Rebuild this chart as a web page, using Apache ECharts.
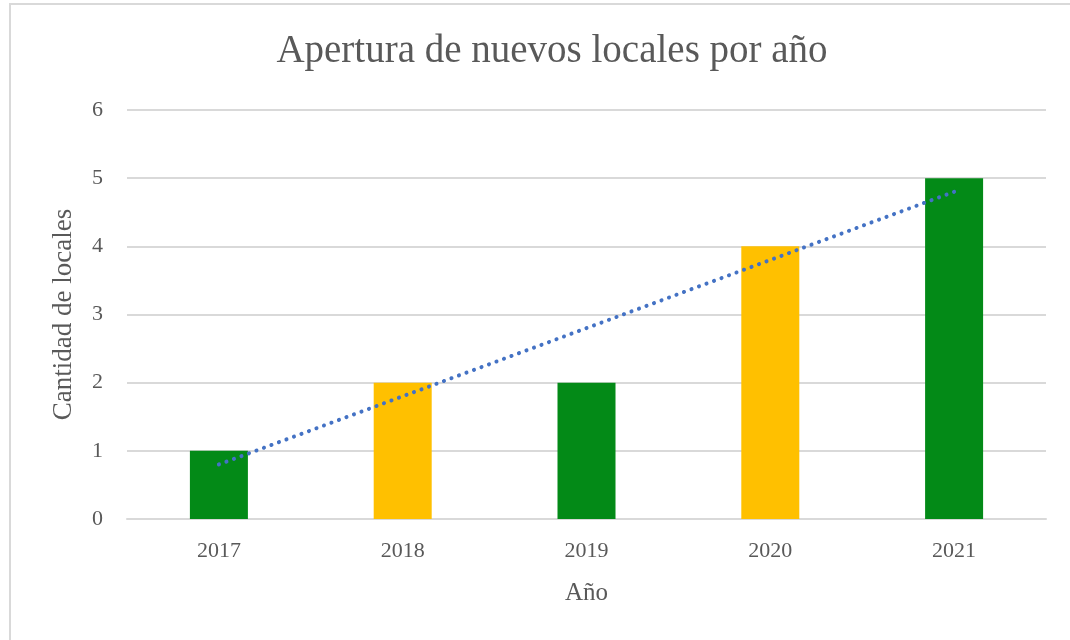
<!DOCTYPE html>
<html>
<head>
<meta charset="utf-8">
<script src="https://cdn.jsdelivr.net/npm/echarts@6/dist/echarts.min.js"></script>
<style>
  html, body { margin: 0; padding: 0; background: #fff; }
  #frame { position: absolute; left: 9px; top: 3px; width: 1100px; height: 700px; border-left: 2px solid #d9d9d9; border-top: 2px solid #d9d9d9; }
  #main { position: absolute; left: 0; top: 0; width: 1070px; height: 640px; }
</style>
</head>
<body>
<div id="frame"></div>
<div id="main"></div>
<script>
// datos del gráfico
var years = ['2017', '2018', '2019', '2020', '2021'];
var locales = [1, 2, 2, 4, 5];
var barColors = ['#038a17', '#ffc000', '#038a17', '#ffc000', '#038a17'];
// línea de tendencia
var tendencia = [0.8, 1.8, 2.8, 3.8, 4.8];

var chart = echarts.init(document.getElementById('main'));
var serif = '"Liberation Serif", "DejaVu Serif", serif';

chart.setOption({
  animation: false,
  title: {
    text: 'Apertura de nuevos locales por año',
    left: 547,
    textAlign: 'center',
    top: 27,
    textStyle: { fontFamily: serif, fontSize: 39, fontWeight: 'normal', color: '#595959' }
  },
  grid: { left: 127, right: 24, top: 110, bottom: 121 },
  xAxis: {
    type: 'category',
    data: years,
    name: 'Año',
    nameLocation: 'middle',
    nameGap: 62,
    nameTextStyle: { fontFamily: serif, fontSize: 25, color: '#595959' },
    axisLine: { lineStyle: { color: '#d9d9d9', width: 2 } },
    axisTick: { show: false },
    axisLabel: { margin: 21, fontFamily: serif, fontSize: 22, color: '#595959' }
  },
  yAxis: {
    type: 'value',
    min: 0,
    max: 6,
    interval: 1,
    name: 'Cantidad de locales',
    nameLocation: 'middle',
    nameGap: 50,
    nameTextStyle: { fontFamily: serif, fontSize: 27, color: '#595959' },
    axisLine: { show: false },
    axisTick: { show: false },
    axisLabel: { margin: 24, fontFamily: serif, fontSize: 22, color: '#595959' },
    splitLine: { lineStyle: { color: '#d9d9d9', width: 2 } }
  },
  series: [
    {
      type: 'bar',
      data: locales.map(function (v, i) {
        return { value: v, itemStyle: { color: barColors[i] } };
      }),
      barWidth: 58
    },
    {
      type: 'line',
      data: tendencia,
      symbol: 'none',
      lineStyle: { color: '#4472c4', width: 4, type: [0.1, 7.9], cap: 'round' },
      z: 5
    }
  ]
});
</script>
</body>
</html>
